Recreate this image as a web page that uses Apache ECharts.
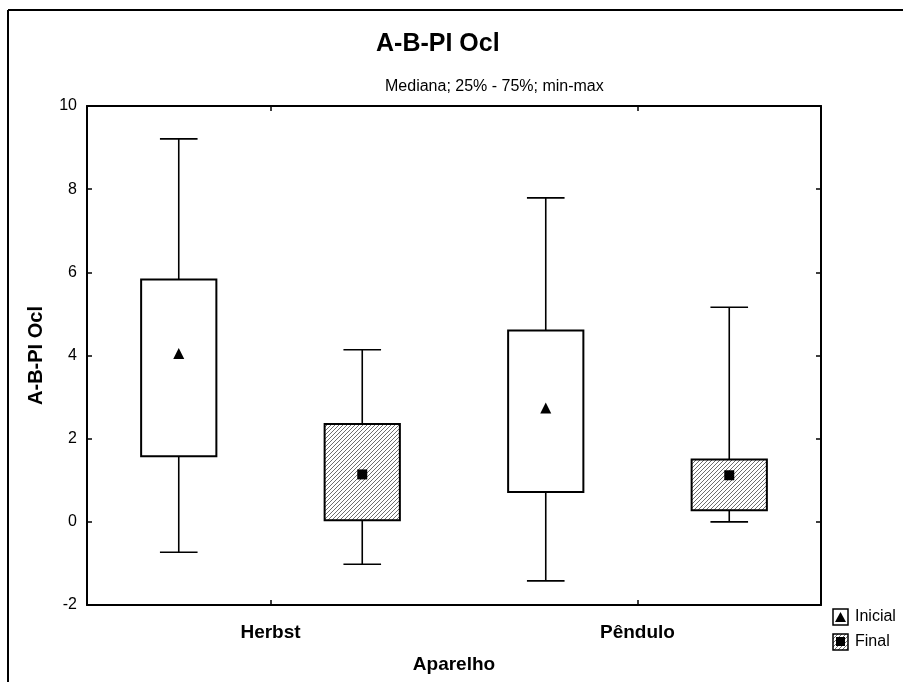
<!DOCTYPE html>
<html>
<head>
<meta charset="utf-8">
<title>A-B-PI Ocl</title>
<script src="https://cdn.jsdelivr.net/npm/echarts@6/dist/echarts.min.js"></script>
<style>
  html, body { margin: 0; padding: 0; background: #fff; }
  #boxChart { width: 903px; height: 682px; }
</style>
</head>
<body>
<div id="boxChart"></div>
<script>
// dados
const categories = ['Herbst', 'Pêndulo']
const seriesNames = ['Inicial', 'Final']
const yTicks = [-2, 0, 2, 4, 6, 8, 10]

// [min, 25%, mediana, 75%, max] por aparelho
const inicialStats = [
  [-0.73, 1.58, 4.05, 5.83, 9.21],
  [-1.42, 0.72, 2.74, 4.6, 7.79]
]
const finalStats = [
  [-1.02, 0.04, 1.14, 2.35, 4.14],
  [0.0, 0.28, 1.12, 1.5, 5.16]
]

const FONT = '"Liberation Sans", Arial, sans-serif'

// textura hachurada da caixa "Final"
const makeHatch = () => {
  const c = document.createElement('canvas')
  c.width = 4
  c.height = 4
  const ctx = c.getContext('2d')
  ctx.fillStyle = '#ffffff'
  ctx.fillRect(0, 0, 4, 4)
  ctx.strokeStyle = '#6e6e6e'
  ctx.lineWidth = 1
  ctx.beginPath()
  ctx.moveTo(-1, 5); ctx.lineTo(5, -1)
  ctx.moveTo(-1, 1); ctx.lineTo(1, -1)
  ctx.moveTo(3, 5); ctx.lineTo(5, 3)
  ctx.stroke()
  return c
}
const hatch = makeHatch()

// cada aparelho ocupa duas posições no eixo oculto: Inicial, Final
const slots = []
categories.forEach((c) => {
  slots.push(c + '-' + seriesNames[0])
  slots.push(c + '-' + seriesNames[1])
})

const boxData = (stats, offset) => stats.map((s, i) => [i * 2 + offset].concat(s))
const medianData = (stats, offset) => stats.map((s, i) => [i * 2 + offset, s[2]])

const renderBox = (fill) => (params, api) => {
  const x = api.value(0)
  const pMin = api.coord([x, api.value(1)])
  const pQ1 = api.coord([x, api.value(2)])
  const pQ3 = api.coord([x, api.value(4)])
  const pMax = api.coord([x, api.value(5)])
  const w = api.size([1, 0])[0] * 0.41
  const cap = w / 2
  const cx = pMin[0]
  const line = (x1, y1, x2, y2) => ({
    type: 'line',
    shape: { x1, y1, x2, y2 },
    style: { stroke: '#000', lineWidth: 1.6 }
  })
  return {
    type: 'group',
    children: [
      line(cx, pMax[1], cx, pQ3[1]),
      line(cx, pQ1[1], cx, pMin[1]),
      line(cx - cap / 2, pMax[1], cx + cap / 2, pMax[1]),
      line(cx - cap / 2, pMin[1], cx + cap / 2, pMin[1]),
      {
        type: 'rect',
        shape: { x: cx - w / 2, y: pQ3[1], width: w, height: pQ1[1] - pQ3[1] },
        style: { fill: fill, stroke: '#000', lineWidth: 2 }
      }
    ]
  }
}

const tickStyle = { show: true, inside: true, length: 5, lineStyle: { color: '#000', width: 1.5 } }
const lineStyle = { show: true, onZero: false, lineStyle: { color: '#000', width: 2 } }

const option = {
  backgroundColor: '#fff',
  animation: false,
  title: [
    {
      text: 'A-B-PI Ocl',
      left: 371,
      top: 27,
      textStyle: { fontFamily: FONT, fontSize: 25, fontWeight: 'bold', color: '#000' }
    },
    {
      text: 'Mediana; 25% - 75%; min-max',
      left: 380,
      top: 74,
      textStyle: { fontFamily: FONT, fontSize: 16, fontWeight: 'normal', color: '#000' }
    }
  ],
  grid: { left: 87, right: 82, top: 106, bottom: 77 },
  xAxis: [
    {
      type: 'category',
      data: slots,
      show: false
    },
    {
      type: 'category',
      data: categories,
      position: 'bottom',
      axisLine: lineStyle,
      axisTick: Object.assign({ alignWithLabel: true }, tickStyle),
      axisLabel: { margin: 18, fontFamily: FONT, fontSize: 19, fontWeight: 'bold', color: '#000' },
      name: 'Aparelho',
      nameLocation: 'middle',
      nameGap: 50,
      nameTextStyle: { fontFamily: FONT, fontSize: 19, fontWeight: 'bold', color: '#000' }
    },
    {
      type: 'category',
      data: categories,
      position: 'top',
      axisLine: lineStyle,
      axisTick: Object.assign({ alignWithLabel: true }, tickStyle),
      axisLabel: { show: false }
    }
  ],
  yAxis: [
    {
      type: 'value',
      min: yTicks[0],
      max: yTicks[yTicks.length - 1],
      interval: 2,
      axisLine: lineStyle,
      axisTick: tickStyle,
      splitLine: { show: false },
      axisLabel: { margin: 10, fontFamily: FONT, fontSize: 16, color: '#000' },
      name: 'A-B-PI Ocl',
      nameLocation: 'middle',
      nameGap: 41,
      nameTextStyle: { fontFamily: FONT, fontSize: 20, fontWeight: 'bold', color: '#000' }
    },
    {
      type: 'value',
      position: 'right',
      min: yTicks[0],
      max: yTicks[yTicks.length - 1],
      interval: 2,
      axisLine: lineStyle,
      axisTick: tickStyle,
      splitLine: { show: false },
      axisLabel: { show: false }
    }
  ],
  series: [
    {
      name: seriesNames[0],
      type: 'custom',
      xAxisIndex: 0,
      yAxisIndex: 0,
      renderItem: renderBox('#ffffff'),
      data: boxData(inicialStats, 0),
      z: 2
    },
    {
      name: seriesNames[1],
      type: 'custom',
      xAxisIndex: 0,
      yAxisIndex: 0,
      renderItem: renderBox({ image: hatch, repeat: 'repeat' }),
      data: boxData(finalStats, 1),
      z: 2
    },
    {
      name: seriesNames[0] + ' mediana',
      type: 'scatter',
      xAxisIndex: 0,
      yAxisIndex: 0,
      symbol: 'triangle',
      symbolSize: [11, 11],
      itemStyle: { color: '#000', opacity: 1 },
      data: medianData(inicialStats, 0),
      z: 3
    },
    {
      name: seriesNames[1] + ' mediana',
      type: 'scatter',
      xAxisIndex: 0,
      yAxisIndex: 0,
      symbol: 'rect',
      symbolSize: 10,
      itemStyle: { color: '#000', opacity: 1 },
      data: medianData(finalStats, 1),
      z: 3
    }
  ],
  graphic: [
    // moldura externa
    { type: 'line', shape: { x1: 8, y1: 10, x2: 8, y2: 682 }, style: { stroke: '#000', lineWidth: 2 } },
    { type: 'line', shape: { x1: 8, y1: 10, x2: 903, y2: 10 }, style: { stroke: '#000', lineWidth: 2 } },
    // legenda
    { type: 'rect', shape: { x: 833, y: 609, width: 15, height: 16 }, style: { fill: '#fff', stroke: '#000', lineWidth: 1.5 } },
    { type: 'polygon', shape: { points: [[840.5, 612], [846, 622], [835, 622]] }, style: { fill: '#000' } },
    { type: 'text', left: 855, top: 609, style: { text: seriesNames[0], fontFamily: FONT, fontSize: 16, fill: '#000' } },
    { type: 'rect', shape: { x: 833, y: 634, width: 15, height: 16 }, style: { fill: { image: hatch, repeat: 'repeat' }, stroke: '#000', lineWidth: 1.5 } },
    { type: 'rect', shape: { x: 836, y: 637, width: 9, height: 9 }, style: { fill: '#000' } },
    { type: 'text', left: 855, top: 634, style: { text: seriesNames[1], fontFamily: FONT, fontSize: 16, fill: '#000' } }
  ]
}

const myChart = echarts.init(document.getElementById('boxChart'))
option && myChart.setOption(option)
</script>
</body>
</html>
